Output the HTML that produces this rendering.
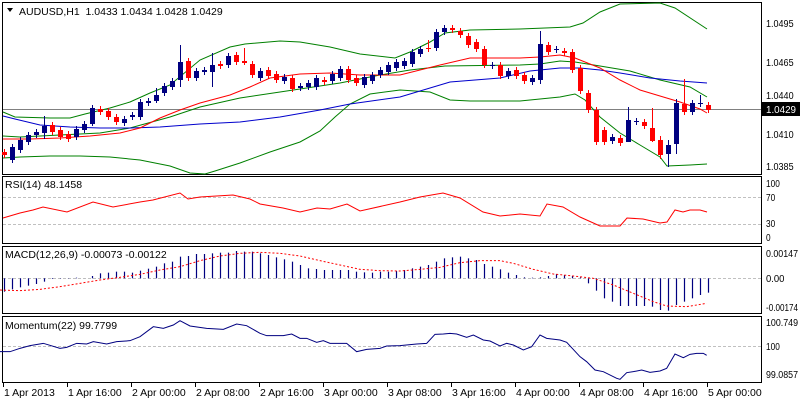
<!DOCTYPE html>
<html><head><meta charset="utf-8"><style>
html,body{margin:0;padding:0;background:#fff;width:800px;height:400px;overflow:hidden}
svg{display:block}
text{font-family:"Liberation Sans",sans-serif;font-size:10.5px;fill:#000}
</style></head><body>
<svg id="s" width="800" height="400" xmlns="http://www.w3.org/2000/svg"></svg>
<script>
var s=document.getElementById('s'),h='';
function pl(pts,c,w,da){return '<polyline fill="none" stroke="'+c+'" stroke-width="'+(w||1)+'"'+(da?' stroke-dasharray="'+da+'"':'')+' points="'+pts.map(function(p){return p[0]+','+p[1]}).join(' ')+'"/>';}
function tx(x,y,t,a){return '<text x="'+x+'" y="'+y+'"'+(a?' text-anchor="'+a+'"':'')+'>'+t+'</text>';}
function rt(y,t){var w=Math.min(32,t.length*4.6);return '<text x="766" y="'+y+'" textLength="'+w+'" lengthAdjust="spacingAndGlyphs" style="font-size:10px">'+t+'</text>';}
function zpts(arr,ox,oy){var r=[];for(var i=0;i<arr.length;i+=2)r.push([ox+arr[i]/3,oy+arr[i+1]/3]);return r;}
h+='<rect x="2.5" y="2.5" width="759" height="172" fill="none" stroke="#000"/>';
h+='<rect x="2.5" y="176.5" width="759" height="67" fill="none" stroke="#000"/>';
h+='<rect x="2.5" y="246.5" width="759" height="67" fill="none" stroke="#000"/>';
h+='<rect x="2.5" y="316.5" width="759" height="66" fill="none" stroke="#000"/>';
h+='<line x1="3" y1="109.5" x2="761" y2="109.5" stroke="#808080"/>';
h+=pl([[3,112],[15,117],[50,118],[70,118],[85,114],[110,108],[130,102],[150,93],[170,85],[200,60],[230,47],[245,44],[280,41],[300,42],[330,47],[360,54],[395,58],[410,52],[430,42],[445,33],[470,30],[520,29],[570,27],[583,23],[600,12],[620,4],[660,3],[675,8],[707,29]],'#008000');
h+=pl([[3,136],[20,137],[100,133],[130,128],[170,117],[200,107],[240,98],[280,92],[300,89],[340,83],[380,75],[410,70],[445,66],[520,65],[540,64],[560,61],[575,62],[600,66],[630,71],[660,80],[690,87],[707,97]],'#008000');
h+=pl([[3,158],[20,157],[50,156],[80,156],[110,157],[140,160],[170,166],[190,173],[205,174],[215,171],[240,163],[270,152],[300,142],[320,131],[335,117],[350,104],[370,94],[400,90],[430,92],[450,100],[470,101],[520,101],[540,99],[560,97],[575,94],[585,100],[600,117],[620,133],[640,145],[660,157],[667,166],[690,165],[707,164]],'#008000');
h+=pl([[3,116],[15,119],[40,125],[70,127],[100,128],[130,128],[160,127],[200,124],[240,122],[280,117],[320,110],[350,104],[400,97],[450,82],[500,78],[530,71],[560,68],[580,68],[600,70],[620,73],[650,78],[680,81],[707,83]],'#0000cc');
h+=pl([[3,139],[30,139],[60,138],[90,136],[120,133],[140,128],[160,118],[180,110],[200,103],[230,95],[250,87],[270,78],[300,74],[330,73],[360,75],[400,75],[440,65],[470,58],[520,58],[540,57],[560,55],[575,58],[600,68],[620,80],[640,90],[660,96],[680,102],[700,109],[707,113]],'#ff0000');
var C=[[152,155,'r'],[147,160,'b'],[140,150,'b'],[135,142,'b'],[132,135,'b'],[126,133,'b'],[125,132,'r'],[130,137,'r'],[134,139,'r'],[129,137,'b'],[124,130,'b'],[108,124,'b'],[109,112,'r'],[111,117,'r'],[117,122,'r'],[119,123,'b'],[115,117,'b'],[102,117,'b'],[101,103,'b'],[95,101,'b'],[86,93,'b'],[81,87,'b'],[62,80,'b'],[61,78,'r'],[71,78,'b'],[70,72,'b'],[65,72,'b'],[64,66,'r'],[56,65,'b'],[55,62,'r'],[61,63,'r'],[64,75,'r'],[71,78,'b'],[70,76,'r'],[74,80,'r'],[77,81,'b'],[78,89,'r'],[86,88,'b'],[83,87,'b'],[78,87,'b'],[80,82,'r'],[74,81,'b'],[69,78,'b'],[69,80,'r'],[78,83,'r'],[77,85,'b'],[75,81,'b'],[70,75,'b'],[65,72,'b'],[62,68,'b'],
[61,66,'b'],[52,64,'b'],[49,54,'b'],[48,49,'r'],[32,48,'b'],[28,32,'b'],[28,30,'r'],[31,35,'r'],[36,45,'r'],[42,49,'r'],[49,65,'r'],[65,66,'b'],[65,76,'r'],[71,76,'b'],[70,76,'r'],[75,81,'r'],[78,82,'b'],[44,80,'b'],[45,52,'r'],[49,50,'b'],[51,53,'r'],[52,70,'r'],[68,91,'r'],[93,110,'r'],[110,142,'r'],[130,142,'r'],[137,141,'b'],[138,143,'r'],[120,142,'b'],[121,122,'b'],[122,126,'r'],[128,141,'r'],[140,155,'r'],[145,154,'b'],[103,144,'b'],[104,112,'r'],[103,112,'b'],[103,104,'b'],[105,110,'r']];
var W={5:[116,139],22:[45,87],26:[53,87],30:[48,65],67:[31,84],84:[99,154],85:[79,115],82:[136,159],83:[140,167],78:[107,142],81:[108,142],87:[95,107],53:[40,52],19:[88,103],11:[105,126]};
C.forEach(function(c,i){var x=4+8*i,col=c[2]=='b'?'#000080':'#ff0000';var w=W[i]||[c[0]-3,c[1]+3];
h+='<line x1="'+(x+0.5)+'" y1="'+w[0]+'" x2="'+(x+0.5)+'" y2="'+w[1]+'" stroke="'+col+'"/>';
h+='<rect x="'+(x-2)+'" y="'+c[0]+'" width="5" height="'+Math.max(1,c[1]-c[0])+'" fill="'+col+'"/>';});
h+='<rect x="762" y="102" width="38" height="14" fill="#000"/>';
h+='<text x="766" y="113" textLength="30" lengthAdjust="spacingAndGlyphs" style="fill:#fff;font-size:10px">1.0429</text>';
[['1.0495',27],['1.0465',66],['1.0440',99],['1.0410',138],['1.0385',170]].forEach(function(a){h+=rt(a[1],a[0]);});
h+='<path d="M7 8 L13 8 L10 12 Z" fill="#000"/>';
h+=tx(19,15,'AUDUSD,H1&#160;&#160;1.0433 1.0434 1.0428 1.0429');
h+='<line x1="3" y1="197.5" x2="761" y2="197.5" stroke="#c0c0c0" stroke-dasharray="3,2"/>';
h+='<line x1="3" y1="224.5" x2="761" y2="224.5" stroke="#c0c0c0" stroke-dasharray="3,2"/>';
h+=pl([[3,218],[20,213],[33,210],[43,207],[67,212],[93,202],[113,207],[140,202],[153,200],[180,193],[188,199],[200,197],[233,195],[250,199],[260,204],[283,208],[300,212],[317,208],[330,209],[347,204],[360,211],[400,202],[420,197],[443,193],[460,198],[483,212],[500,216],[520,214],[540,216],[547,204],[563,207],[580,217],[600,226],[620,226],[627,218],[643,219],[660,223],[667,222],[675,210],[683,212],[690,210],[700,210],[707,212]],'#ff0000');
h+=tx(5,188,'RSI(14) 48.1458');
h+=rt(187,'100')+rt(201,'70')+rt(227,'30')+rt(241,'0');
h+='<line x1="3" y1="278.5" x2="761" y2="278.5" stroke="#c0c0c0" stroke-dasharray="3,2"/>';
var M=[365,358,352,347,342,335,327,326,324,323,325,318,310,308,305,305,308,302,296,290,280,275,260,258,252,252,250,248,248,243,245,245,250,255,262,268,275,285,295,297,300,300,300,300,305,307,308,305,305,303,300,295,290,285,275,265,262,260,265,270,282,290,298,308,315,322,323,322,318,312,315,318,322,340,362,385,395,408,408,408,408,410,420,422,405,395,385,375,368];
M.forEach(function(v,i){var x=4.5+8*i,y=170+v/3;h+='<line x1="'+x+'" y1="278.3" x2="'+x+'" y2="'+y+'" stroke="#000080" stroke-width="1.2"/>';});
h+=pl(zpts([0,360,60,362,120,358,180,350,240,340,300,330,360,322,420,313,480,300,540,290,600,272,660,258,720,250,780,247,840,250,900,258,960,272,1020,285,1080,298,1140,302,1200,303],0,170).concat(zpts([60,298,120,292,180,278,240,272,300,272,340,280,400,298,460,312,520,318,580,325,640,345,700,370,760,395,800,408,860,410,920,400],400,170)),'#ff0000',1,'2,2');
h+=tx(5,258,'MACD(12,26,9) -0.00073 -0.00122');
h+=rt(257,'0.00147')+rt(282,'0.00')+rt(311,'-0.00174');
h+='<line x1="3" y1="346.5" x2="761" y2="346.5" stroke="#c0c0c0" stroke-dasharray="3,2"/>';
h+=pl(zpts([0,545,30,545,60,535,90,527,130,520,180,535,200,532,230,520,260,522,280,515,320,522,350,515,390,512,420,500,460,470,490,475,520,465,540,452,570,468,620,475,670,478,710,462,740,467,780,490,800,497,850,497,875,492,900,505,920,505,950,517,970,512,990,520,1040,520,1070,545,1100,538,1140,535,1160,528,1200,527],0,170).concat(zpts([50,522,80,520,105,493,130,492,150,490,170,492,200,502,220,495,250,510,270,513,300,528,320,520,340,525,370,540,395,530,420,495,440,505,480,510,500,517,540,560,560,575,585,600,610,605,650,625,660,628,680,608,700,605,725,600,750,607,780,603,800,595,825,552,850,563,870,553,890,550,910,550,920,556],400,170)),'#000080');
h+=tx(5,329,'Momentum(22) 99.7799');
h+=rt(326,'100.749')+rt(350,'100')+rt(378,'99.0857');
var T=['1 Apr 2013','1 Apr 16:00','2 Apr 00:00','2 Apr 08:00','2 Apr 16:00','3 Apr 00:00','3 Apr 08:00','3 Apr 16:00','4 Apr 00:00','4 Apr 08:00','4 Apr 16:00','5 Apr 00:00'];
T.forEach(function(t,i){var x=3+64*i;h+='<line x1="'+(x+0.5)+'" y1="383" x2="'+(x+0.5)+'" y2="387" stroke="#000"/>';h+=tx(x+1,396,t);});
s.innerHTML=h;
</script>
</body></html>
